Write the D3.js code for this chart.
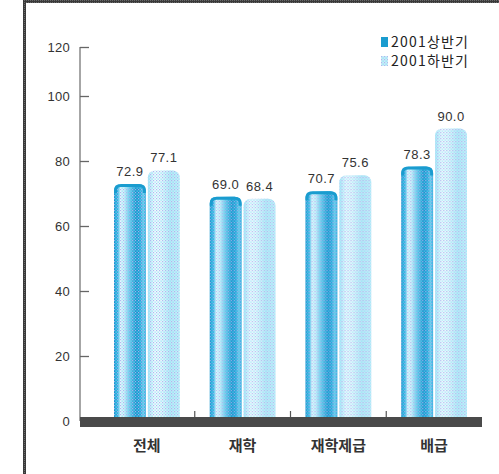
<!DOCTYPE html>
<html><head><meta charset="utf-8">
<script src="https://cdn.jsdelivr.net/npm/d3@7"></script>
<style>html,body{margin:0;padding:0;background:#fff;}svg{display:block;}</style>
</head><body>
<svg id="chart" width="499" height="474"></svg>
<script>
const categories = ["전체", "재학", "재학제급", "배급"];
const seriesNames = ["2001상반기", "2001하반기"];
const firstHalf = [72.9, 69.0, 70.7, 78.3];
const secondHalf = [77.1, 68.4, 75.6, 90.0];
const yTicks = [0, 20, 40, 60, 80, 100, 120];

const svg = d3.select("#chart");
const defs = svg.append("defs");

const g1 = defs.append("linearGradient").attr("id","g1").attr("x1","0").attr("x2","1").attr("y1","0").attr("y2","0");
[[0,"#0f95cc"],[0.12,"#34b4e2"],[0.2,"#e6f7fd"],[0.32,"#d2f0fa"],[0.5,"#62c4e8"],[0.7,"#1291cb"],[0.82,"#22a2d8"],[0.92,"#68c9ea"],[1,"#22a6da"]]
  .forEach(([o,c])=>g1.append("stop").attr("offset",o).attr("stop-color",c));
const g2 = defs.append("linearGradient").attr("id","g2").attr("x1","0").attr("x2","1").attr("y1","0").attr("y2","0");
[[0,"#aee6f7"],[0.2,"#f2fbff"],[0.4,"#eaf9fd"],[0.7,"#bde9f7"],[1,"#cbeffa"]]
  .forEach(([o,c])=>g2.append("stop").attr("offset",o).attr("stop-color",c));
const p = defs.append("pattern").attr("id","dots").attr("width",3).attr("height",3).attr("patternUnits","userSpaceOnUse");
p.append("rect").attr("x",0).attr("y",0).attr("width",1.2).attr("height",1.2).attr("fill","#a9b6ee").attr("opacity",0.9);
p.append("rect").attr("x",1.5).attr("y",1.5).attr("width",1.2).attr("height",1.2).attr("fill","#7fdcf5").attr("opacity",0.9);
const fp = defs.append("pattern").attr("id","frame").attr("width",2).attr("height",2).attr("patternUnits","userSpaceOnUse");
fp.append("rect").attr("width",2).attr("height",2).attr("fill","#3a3a3a");
fp.append("rect").attr("width",1).attr("height",1).attr("fill","#6a6a6a");

// frame
svg.append("rect").attr("x",23).attr("y",0).attr("width",3).attr("height",474).attr("fill","url(#frame)");
svg.append("rect").attr("x",23).attr("y",0).attr("width",476).attr("height",3).attr("fill","url(#frame)");

// scales
const y = d3.scaleLinear().domain([0,100,120]).range([421,96,47]);
const x = d3.scaleBand().domain(categories).range([99,482]).padding(0);
const xs = d3.scaleBand().domain(seriesNames).range([15, x.bandwidth()-15]).paddingInner(0.06);

const numFont = "'Liberation Sans',Arial,sans-serif";

// y axis
const yAxis = d3.axisRight(y).tickValues(yTicks).tickSize(9).tickFormat(d=>d);
const ga = svg.append("g").attr("transform","translate(80,0)").call(yAxis);
ga.select(".domain").attr("stroke","#888").attr("stroke-width",1.5).attr("d","M0,"+y(120)+"V"+y(0));
ga.selectAll(".tick line").attr("stroke","#666").attr("stroke-width",1.3);
ga.selectAll(".tick text").attr("x",-10).attr("text-anchor","end").attr("dy","0.35em")
  .attr("font-family",numFont).attr("font-size",13).attr("letter-spacing",0.3).attr("fill","#333");
ga.selectAll(".tick").filter(d=>d===0).select("line").remove();

// bars
const data = categories.map((c,i)=>({cat:c, vals:[firstHalf[i], secondHalf[i]]}));
const groups = svg.append("g").selectAll("g").data(data).join("g")
  .attr("transform", d=>"translate("+x(d.cat)+",0)");
groups.each(function(d){
  const gg = d3.select(this);
  d.vals.forEach((v,k)=>{
    const bx = xs(seriesNames[k]), bw = xs.bandwidth(), top = y(v), h = y(0)-top;
    const fill = k===0 ? "url(#g1)" : "url(#g2)";
    gg.append("rect").attr("x",bx).attr("y",top).attr("width",bw).attr("height",h+4).attr("rx",7).attr("fill",fill);
    gg.append("rect").attr("x",bx).attr("y",top).attr("width",bw).attr("height",h+4).attr("rx",7).attr("fill","url(#dots)");
    if(k===0){
      gg.append("path").attr("d","M"+(bx+1.5)+","+(top+9)+"V"+(top+6)+"Q"+(bx+1.5)+","+(top+1.5)+" "+(bx+7)+","+(top+1.5)+"H"+(bx+bw-7)+"Q"+(bx+bw-1.5)+","+(top+1.5)+" "+(bx+bw-1.5)+","+(top+6)+"V"+(top+9))
        .attr("fill","none").attr("stroke","#1a9ccf").attr("stroke-width",3);
    }
    gg.append("text").attr("x",bx+bw/2).attr("y",top-8).attr("text-anchor","middle")
      .attr("font-family",numFont).attr("font-size",13).attr("letter-spacing",0.5).attr("fill","#333")
      .text(v.toFixed(1));
  });
});

// baseline
svg.append("rect").attr("x",80).attr("y",y(0)-4).attr("width",402).attr("height",10).attr("fill","#4a4a4a");
svg.append("g").selectAll("line").data(categories.slice(1)).join("line")
  .attr("x1",d=>x(d)).attr("x2",d=>x(d)).attr("y1",y(0)-10).attr("y2",y(0)-4)
  .attr("stroke","#555").attr("stroke-width",1.2);

// category labels
svg.append("g").selectAll("text").data(categories).join("text")
  .attr("x",d=>x(d)+x.bandwidth()/2).attr("y",451).attr("text-anchor","middle")
  .attr("font-family","'Noto Sans CJK KR',sans-serif").attr("font-size",15).attr("font-weight","bold").attr("fill","#333")
  .text(d=>d);

// legend
const lg = svg.append("g").selectAll("g").data(seriesNames).join("g")
  .attr("transform",(d,i)=>"translate(381,"+(37+i*19)+")");
lg.append("rect").attr("width",7).attr("height",10).attr("fill",(d,i)=>i===0?"#1a9ccf":"#c9eef8");
lg.filter((d,i)=>i===1).append("rect").attr("width",7).attr("height",10).attr("fill","url(#dots)");
lg.append("text").attr("x",10).attr("y",5).attr("dy","0.35em")
  .attr("font-family","'Noto Sans CJK KR',sans-serif").attr("font-size",14).attr("letter-spacing",1.2).attr("fill","#222")
  .text(d=>d);
</script>
</body></html>
